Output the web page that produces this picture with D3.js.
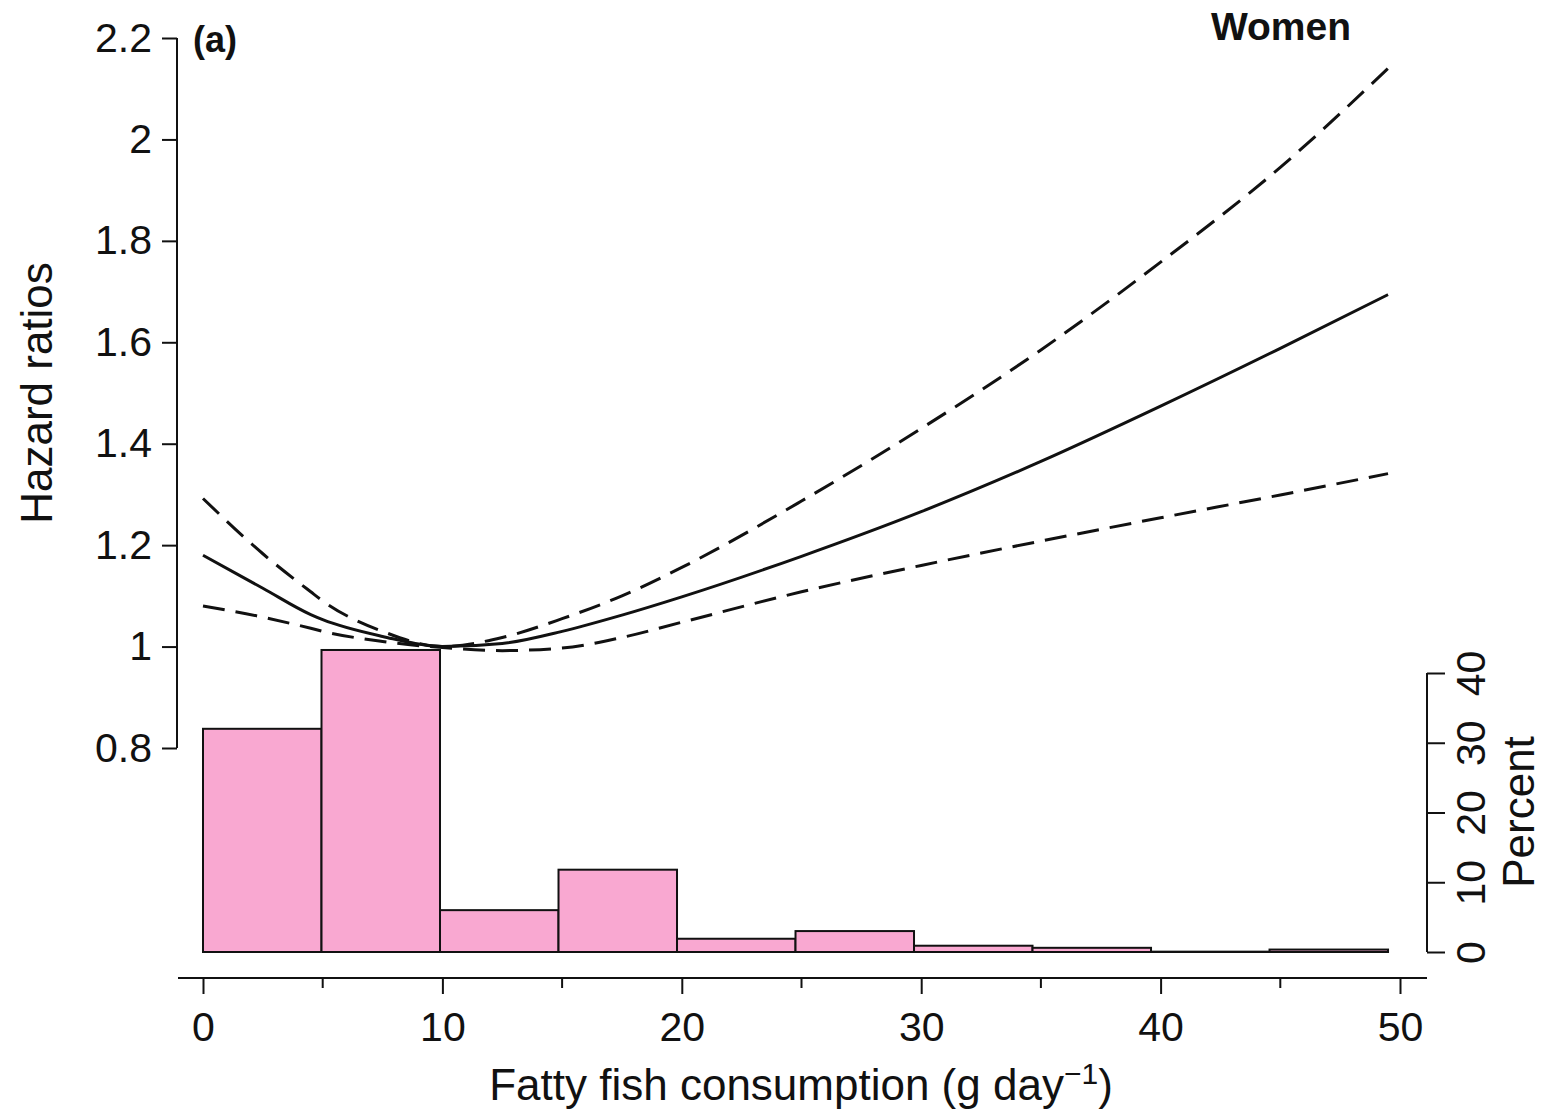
<!DOCTYPE html>
<html>
<head>
<meta charset="utf-8">
<script src="https://cdn.jsdelivr.net/npm/d3@7"></script>
<style>
  body { margin: 0; background: #fff; }
  svg { display: block; font-family: "Liberation Sans", Arial, Helvetica, sans-serif; }
</style>
</head>
<body>
<svg width="1543" height="1115"></svg>
<script>
// fish intake (g/day) where the spline was read
const xs       = [0, 2.5, 4.5, 5, 7.5, 10, 12.5, 15, 17.5, 20, 25, 30, 35, 40, 45, 49.5];
const hr       = [1.180, 1.115, 1.063, 1.053, 1.020, 1.000, 1.006, 1.030, 1.062, 1.098, 1.178, 1.266, 1.365, 1.474, 1.588, 1.694];
const hrUpper  = [1.292, 1.183, 1.108, 1.090, 1.030, 1.000, 1.018, 1.055, 1.100, 1.156, 1.287, 1.430, 1.585, 1.758, 1.945, 2.140];
const hrLower  = [1.080, 1.058, 1.036, 1.030, 1.010, 0.998, 0.992, 0.997, 1.018, 1.048, 1.108, 1.160, 1.208, 1.254, 1.299, 1.341];

// histogram of intake
const binEdges = [0, 4.95, 9.9, 14.85, 19.8, 24.75, 29.7, 34.65, 39.6, 44.55, 49.5];
const percent  = [32.0, 43.3, 6.0, 11.8, 1.9, 3.0, 0.9, 0.6, 0.05, 0.35];

const yTicks = [0.8, 1, 1.2, 1.4, 1.6, 1.8, 2, 2.2];
const xTicks = [0, 10, 20, 30, 40, 50];
const xMinor = [5, 15, 25, 35, 45];
const pTicks = [0, 10, 20, 30, 40];

const svg = d3.select("svg");

const x = d3.scaleLinear().domain([0, 50]).range([203, 1400]);
const y = d3.scaleLinear().domain([0.8, 2.2]).range([748, 38]);
const p = d3.scaleLinear().domain([0, 40]).range([952, 673]);

// histogram bars
const bins = percent.map((v, i) => ({ x0: binEdges[i], x1: binEdges[i + 1], v: v }));
svg.append("g")
    .selectAll("rect")
    .data(bins)
    .enter()
    .append("rect")
    .attr("x", d => x(d.x0))
    .attr("width", d => x(d.x1) - x(d.x0))
    .attr("y", d => p(d.v))
    .attr("height", d => p(0) - p(d.v))
    .attr("fill", "#f9a8d1")
    .attr("stroke", "#111")
    .attr("stroke-width", 2);

// spline curves
const line = d3.line()
    .x((d, i) => x(xs[i]))
    .y(d => y(d))
    .curve(d3.curveMonotoneX);

svg.append("path")
    .attr("d", line(hrUpper))
    .attr("fill", "none")
    .attr("stroke", "#111")
    .attr("stroke-width", 3)
    .attr("stroke-dasharray", "22,11");

svg.append("path")
    .attr("d", line(hrLower))
    .attr("fill", "none")
    .attr("stroke", "#111")
    .attr("stroke-width", 3)
    .attr("stroke-dasharray", "22,11");

svg.append("path")
    .attr("d", line(hr))
    .attr("fill", "none")
    .attr("stroke", "#111")
    .attr("stroke-width", 3);

// left axis
const yAxis = svg.append("g")
    .attr("transform", "translate(177,0)")
    .call(d3.axisLeft(y).tickValues(yTicks).tickSize(15).tickPadding(10)
        .tickFormat(d3.format("~g")));
yAxis.select(".domain").attr("d", `M0,${y(2.2)}V${y(0.8)}`);

// bottom axis
const xAxis = svg.append("g")
    .attr("transform", "translate(0,978)")
    .call(d3.axisBottom(x).tickValues(xTicks).tickSize(16).tickPadding(18));
xAxis.select(".domain").attr("d", "M178,0H1427");
xAxis.selectAll(".minor")
    .data(xMinor)
    .enter()
    .append("line")
    .attr("class", "minor")
    .attr("x1", d => x(d)).attr("x2", d => x(d))
    .attr("y1", 0).attr("y2", 10)
    .attr("stroke", "#111");

// right axis (percent)
const pAxis = svg.append("g")
    .attr("transform", "translate(1427,0)")
    .call(d3.axisRight(p).tickValues(pTicks).tickSize(18).tickFormat(d3.format("d")));
pAxis.select(".domain").attr("d", `M0,${p(0)}V${p(40)}`);
pAxis.selectAll(".tick text")
    .attr("x", 0).attr("dy", null)
    .attr("text-anchor", "middle")
    .attr("transform", "translate(58,0) rotate(-90)");

[yAxis, xAxis, pAxis].forEach(g => {
    g.selectAll(".domain, line").attr("stroke", "#111").attr("stroke-width", 2);
    g.selectAll("text").attr("font-size", 41).attr("fill", "#111")
        .attr("font-family", "Liberation Sans, Arial, sans-serif");
});
xAxis.selectAll(".tick text").attr("dy", "0.71em");

// titles
svg.append("text")
    .attr("transform", "translate(52,393) rotate(-90)")
    .attr("text-anchor", "middle")
    .attr("font-size", 44)
    .attr("fill", "#111")
    .text("Hazard ratios");

svg.append("text")
    .attr("transform", "translate(1534,812) rotate(-90)")
    .attr("text-anchor", "middle")
    .attr("font-size", 44)
    .attr("fill", "#111")
    .text("Percent");

const xt = svg.append("text")
    .attr("x", 801)
    .attr("y", 1100)
    .attr("text-anchor", "middle")
    .attr("font-size", 44)
    .attr("fill", "#111");
xt.append("tspan").text("Fatty fish consumption (g day");
xt.append("tspan").attr("font-size", 30).attr("dy", -16).text("\u22121");
xt.append("tspan").attr("dy", 16).text(")");

svg.append("text")
    .attr("x", 193)
    .attr("y", 52)
    .attr("font-size", 36)
    .attr("font-weight", "bold")
    .attr("fill", "#111")
    .text("(a)");

svg.append("text")
    .attr("x", 1281)
    .attr("y", 40)
    .attr("text-anchor", "middle")
    .attr("font-size", 39)
    .attr("font-weight", "bold")
    .attr("fill", "#111")
    .text("Women");
</script>
</body>
</html>
